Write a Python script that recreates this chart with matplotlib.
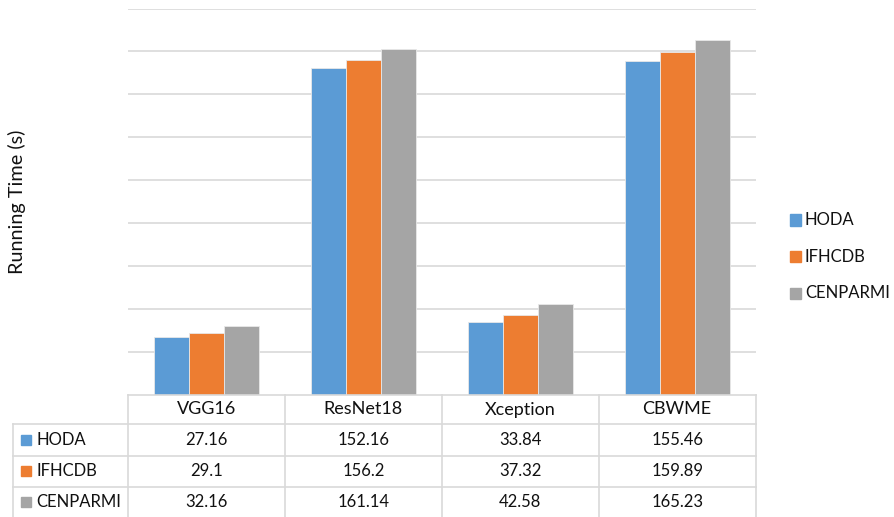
import matplotlib
matplotlib.use('Agg')
import matplotlib.pyplot as plt
from matplotlib.patches import Rectangle
import numpy as np

plt.rcParams['font.family'] = ['Lato', 'DejaVu Sans']

# 모델별 실행 시간 (초)
models = ['VGG16', 'ResNet18', 'Xception', 'CBWME']
datasets = ['HODA', 'IFHCDB', 'CENPARMI']
hoda = [27.16, 152.16, 33.84, 155.46]
ifhcdb = [29.1, 156.2, 37.32, 159.89]
cenparmi = [32.16, 161.14, 42.58, 165.23]
cellText = [['27.16', '152.16', '33.84', '155.46'],
            ['29.1', '156.2', '37.32', '159.89'],
            ['32.16', '161.14', '42.58', '165.23']]
colors = ['#5B9BD5', '#ED7D31', '#A5A5A5']
gridColor = '#D9D9D9'
textColor = '#111111'

W, H = 894, 517
fig = plt.figure(figsize=(W / 100, H / 100), dpi=100)

# pixel -> figure 좌표
def box(x0, y0, x1, y1):
    return [x0 / W, 1 - y1 / H, (x1 - x0) / W, (y1 - y0) / H]

plotL, plotR, plotT, plotB = 128, 755.6, 8.5, 395
catW = (plotR - plotL) / 4

# 막대 그래프
ax = fig.add_axes(box(plotL, plotT, plotR, plotB))
x = np.arange(len(models))
bw = 0.223
for i, vals in enumerate([hoda, ifhcdb, cenparmi]):
    ax.bar(x + (i - 1) * bw, vals, bw, color=colors[i], edgecolor='#E8E8E8', linewidth=0.6, zorder=3)
ax.set_xlim(-0.5, 3.5)
ax.set_ylim(0, 180)
ax.set_yticks(np.arange(20, 181, 20))
ax.yaxis.grid(True, color=gridColor, linewidth=1.2, zorder=0)
ax.tick_params(left=False, bottom=False, labelleft=False, labelbottom=False)
for s in ax.spines.values():
    s.set_visible(False)

fig.text(17 / W, 1 - 202 / H, 'Running Time (s)', rotation=90, ha='center', va='center',
         fontsize=14.3, color=textColor)

# 데이터 표
tabL = 13
xLeft = -0.5 - (plotL - tabL) / catW
tx = fig.add_axes(box(tabL, plotB, plotR, H))
tx.set_xlim(xLeft, 3.5)
tx.set_ylim(H - plotB, 0)
tx.axis('off')
rowY = [0, 29, 60.5, 92, 122]
lc = dict(color=gridColor, linewidth=1.2, clip_on=False)
tx.plot([-0.5, 3.5], [rowY[0], rowY[0]], **lc)
for y in rowY[1:4]:
    tx.plot([xLeft, 3.5], [y, y], **lc)
for xv in [-0.5, 0.5, 1.5, 2.5, 3.5]:
    tx.plot([xv, xv], [0, 122], **lc)
tx.plot([xLeft, xLeft], [rowY[1], 122], **lc)

fs = 12
for j, m in enumerate(models):
    tx.text(j, (rowY[0] + rowY[1]) / 2, m, ha='center', va='center', fontsize=13, color=textColor)
for i, name in enumerate(datasets):
    yc = (rowY[i + 1] + rowY[i + 2]) / 2
    for j in range(len(models)):
        tx.text(j, yc, cellText[i][j], ha='center', va='center', fontsize=fs, color=textColor)
    sx = xLeft + 7.5 / catW
    tx.add_patch(Rectangle((sx, yc - 5), 10.5 / catW, 10, color=colors[i], clip_on=False))
    tx.text(xLeft + 23 / catW, yc, name, ha='left', va='center', fontsize=fs, color=textColor)

# 범례
for i, name in enumerate(datasets):
    yc = 220 + i * 36.7
    fig.add_artist(Rectangle((790 / W, 1 - (yc + 5.5) / H), 11 / W, 11 / H,
                             color=colors[i], transform=fig.transFigure))
    fig.text(805 / W, 1 - yc / H, name, ha='left', va='center', fontsize=fs, color=textColor)

fig.savefig('out.png', dpi=100)
